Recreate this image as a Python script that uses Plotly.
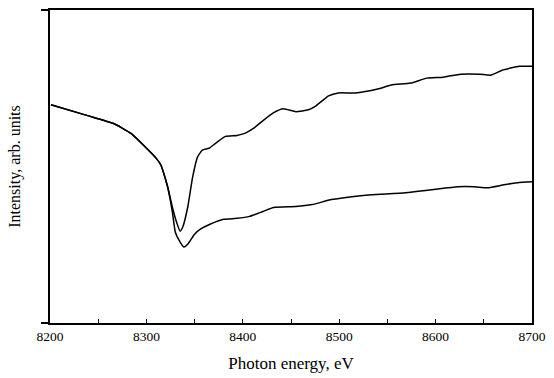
import plotly.graph_objects as go

# Photon energy (eV) and intensity (arb. units)
energy_upper = [8201, 8239, 8266, 8284, 8297, 8310, 8315, 8322, 8327, 8331,
                8335, 8338, 8343, 8348, 8353, 8358, 8365, 8373, 8382, 8394,
                8402, 8411, 8421, 8432, 8442, 8455, 8468, 8476, 8489, 8499,
                8516, 8540, 8554, 8574, 8591, 8608, 8626, 8646, 8657, 8669,
                8687, 8700]
intensity_upper = [221, 210, 202, 192, 180, 167, 160, 138, 117, 103,
                   93, 98, 118, 148, 168, 175, 177, 183, 189, 190,
                   192, 197, 205, 213, 217, 214, 216, 220, 230, 233,
                   233, 237, 241, 243, 248, 249, 252, 252, 251, 256,
                   260, 260]

energy_lower = [8201, 8239, 8266, 8284, 8297, 8310, 8315, 8322, 8327, 8330,
                8335, 8339, 8343, 8350, 8356, 8366, 8380, 8394, 8407, 8421,
                8432, 8455, 8472, 8492, 8522, 8569, 8596, 8623, 8640, 8654,
                8671, 8685, 8700]
intensity_lower = [221, 210, 202, 192, 180, 167, 160, 138, 112, 92,
                   82, 77, 80, 90, 95, 100, 105, 106, 108, 113,
                   117, 118, 120, 125, 129, 132, 135, 138, 138, 137,
                   140, 142, 143]

x_ticks = list(range(8200, 8701, 50))
x_labels = [str(v) if v % 100 == 0 else "" for v in x_ticks]

fig = go.Figure()
for xs, ys in [(energy_upper, intensity_upper), (energy_lower, intensity_lower)]:
    fig.add_trace(go.Scatter(x=xs, y=ys, mode="lines",
                             line=dict(color="black", width=1.5, shape="spline", smoothing=0.5),
                             showlegend=False, hoverinfo="skip"))

font = "Liberation Serif, Times New Roman, serif"
fig.update_layout(
    width=554, height=378,
    margin=dict(l=50, r=14, t=8, b=53),
    paper_bgcolor="white", plot_bgcolor="white",
    font=dict(family=font, color="black"),
    xaxis=dict(range=[8200, 8700], tickvals=x_ticks, ticktext=x_labels,
               ticks="inside", ticklen=4, tickcolor="black", tickwidth=1,
               tickfont=dict(size=13.5, family=font),
               showline=True, linecolor="black", linewidth=1.5, mirror=True,
               showgrid=False, zeroline=False,
               title=dict(text="Photon energy, eV", font=dict(size=17, family=font), standoff=14)),
    yaxis=dict(range=[0, 317], tickvals=[0, 317], ticktext=["", ""],
               ticks="outside", ticklen=7, tickcolor="black", tickwidth=1.5,
               showline=True, linecolor="black", linewidth=1.5, mirror=True,
               showgrid=False, zeroline=False,
               title=dict(text="Intensity, arb. units", font=dict(size=16, family=font), standoff=14)),
)

fig.write_html("out.html")
